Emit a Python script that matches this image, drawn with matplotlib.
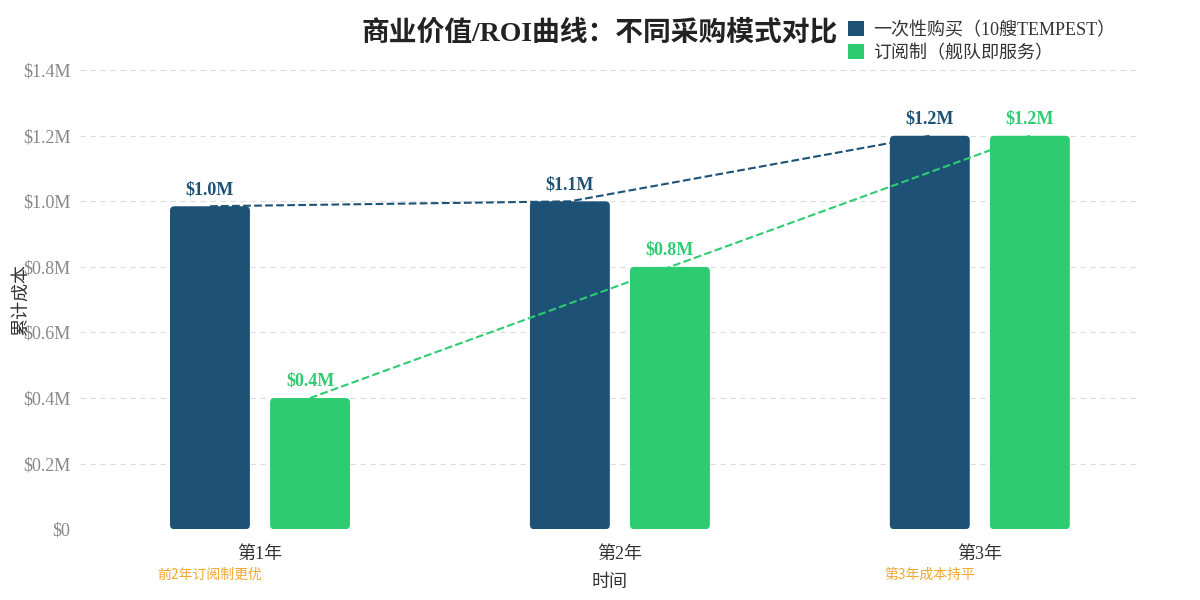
import matplotlib.pyplot as plt
from matplotlib.patches import FancyBboxPatch, Patch
import numpy as np

# data (cumulative cost, $M)
years = ['第1年', '第2年', '第3年']
one_time = [0.985, 1.0, 1.2]
subscription = [0.4, 0.8, 1.2]
one_time_labels = ['$1.0M', '$1.1M', '$1.2M']
sub_labels = ['$0.4M', '$0.8M', '$1.2M']
y_ticks = [0, 0.2, 0.4, 0.6, 0.8, 1.0, 1.2, 1.4]
y_tick_labels = ['$0', '$0.2M', '$0.4M', '$0.6M', '$0.8M', '$1.0M', '$1.2M', '$1.4M']
series_names = ['一次性购买（10艘TEMPEST）', '订阅制（舰队即服务）']
notes = [('前2年订阅制更优', 0), ('第3年成本持平', 2)]

DARK = '#1d5175'
GREEN = '#2ecc71'
ORANGE = '#f0a830'
FONTS = ['Liberation Serif', 'Noto Sans CJK SC', 'DejaVu Sans']
SANS = ['Noto Sans CJK SC', 'DejaVu Sans']

plt.rcParams['font.family'] = FONTS

fig = plt.figure(figsize=(12, 6), dpi=100)
ax = fig.add_axes([0.0667, 0.118, 0.8833, 0.765])

x = np.arange(len(years))
w = 0.222
off = 0.139

bars1 = ax.bar(x - off, one_time, w, color=DARK, zorder=2)
bars2 = ax.bar(x + off, subscription, w, color=GREEN, zorder=2)

# swap plain bars for rounded ones
aspect = (1.4 / 459) / (1 / 360)
for bars in (bars1, bars2):
    for b in bars:
        b.set_visible(False)
        p = FancyBboxPatch((b.get_x(), b.get_y()), b.get_width(), b.get_height(),
                           boxstyle='round,pad=0,rounding_size=0.012',
                           mutation_aspect=aspect,
                           facecolor=b.get_facecolor(), edgecolor='none', zorder=2)
        ax.add_patch(p)

ax.plot(x - off, one_time, '--', color=DARK, lw=1.5, zorder=3)
ax.plot(x + off, subscription, '--', color=GREEN, lw=1.5, zorder=3)

for xi, v, t in zip(x - off, one_time, one_time_labels):
    ax.text(xi, v + 0.025, t, ha='center', va='bottom', color=DARK,
            fontsize=13, fontweight='bold', zorder=4)
for xi, v, t in zip(x + off, subscription, sub_labels):
    ax.text(xi, v + 0.025, t, ha='center', va='bottom', color=GREEN,
            fontsize=13, fontweight='bold', zorder=4)

ax.set_xlim(-0.5, 2.445)
ax.set_ylim(0, 1.4)
ax.set_yticks(y_ticks)
ax.set_yticklabels(y_tick_labels, fontsize=13, color='#888888')
ax.set_xticks(x)
ax.set_xticklabels(years, fontsize=13, color='#333333')
ax.tick_params(length=0)
ax.tick_params(axis='y', pad=7)
ax.tick_params(axis='x', pad=12)
for s in ax.spines.values():
    s.set_visible(False)
ax.yaxis.grid(True, linestyle=(0, (5, 4)), color='#dddddd', lw=0.8, zorder=0)

ax.set_xlabel('时间', fontsize=13, color='#333333', labelpad=8)
fig.text(0.018, 0.5, '累计成本', rotation=90, ha='center', va='center',
         fontsize=13, color='#333333')

for txt, i in notes:
    ax.text(i - 0.14, -0.1, txt, ha='center', va='center', fontsize=10,
            color=ORANGE, family=SANS, transform=ax.get_xaxis_transform())

fig.text(0.5, 0.945, '商业价值/ROI曲线：不同采购模式对比', ha='center', va='center',
         fontsize=20, fontweight='bold', color='#222222')

handles = [Patch(facecolor=DARK), Patch(facecolor=GREEN)]
fig.legend(handles, series_names, loc='upper right', bbox_to_anchor=(0.943, 0.992),
           frameon=False, fontsize=13, handlelength=0.9, handleheight=0.9,
           handletextpad=0.5, labelspacing=0.3, labelcolor='#333333')

fig.savefig('out.png', dpi=100)
